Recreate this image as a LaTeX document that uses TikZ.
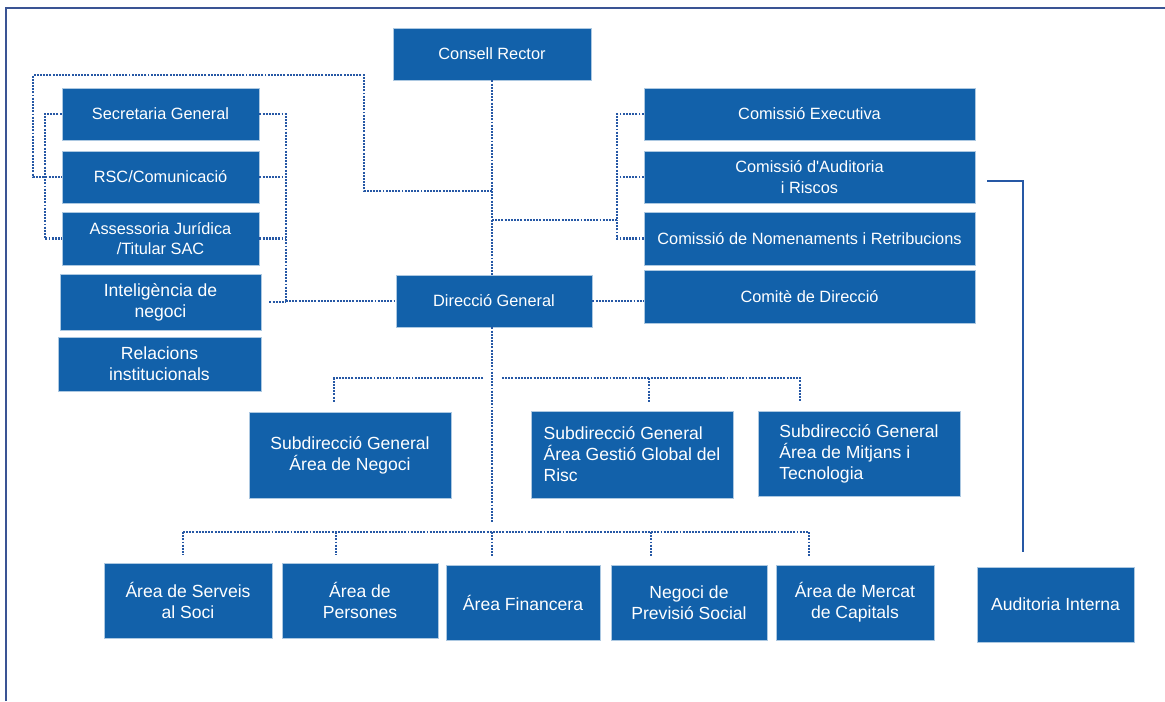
\documentclass[tikz,border=0pt]{standalone}
\usepackage{fontspec}
\setmainfont{Liberation Sans}
\usepackage{xcolor}
\usepackage{tikz}

\definecolor{orgblue}{RGB}{18,97,170}
\definecolor{linkblue}{RGB}{38,88,165}
\definecolor{frameblue}{RGB}{58,84,148}

\begin{document}
\begin{tikzpicture}[x=0.02cm, y=-0.02cm,
        unit/.style={draw=white!65!orgblue, line width=0.5pt, rectangle, fill=orgblue, text=white, inner sep=0pt, align=center, font=\fontsize{9.3}{11.6}\selectfont},
        lower/.style={unit, font=\fontsize{10}{12}\selectfont},
        link/.style={dash pattern=on 1.1pt off 0.7pt, line width=1.2pt, linkblue},
        audit/.style={line width=0.6pt, linkblue}]
        \useasboundingbox (0,0) rectangle (1165,701);
        \draw[frameblue, line width=1.6pt] (6,701) -- (6,8) -- (1165,8);

        \node[unit, minimum width=3.96cm, minimum height=1.04cm] (rector) at (492,54) {Consell Rector};

        \node[unit, minimum width=3.94cm, minimum height=1.04cm] (secretaria) at (160.5,114) {Secretaria General};
        \node[unit, minimum width=3.94cm, minimum height=1.04cm] (rsc) at (160.5,177) {RSC/Comunicació};
        \node[unit, minimum width=3.94cm, minimum height=1.06cm] (juridica) at (160.5,238.5) {Assessoria Jurídica\\/Titular SAC};
        \node[lower, minimum width=4.02cm, minimum height=1.12cm] (intel) at (160.5,302) {Inteligència de\\negoci};
        \node[lower, minimum width=4.06cm, minimum height=1.08cm] (relacions) at (159.5,364) {Relacions\\institucionals};

        \node[unit, minimum width=3.92cm, minimum height=1.04cm] (direccio) at (494,301) {Direcció General};

        \node[unit, minimum width=6.62cm, minimum height=1.04cm] (executiva) at (809.5,114) {Comissió Executiva};
        \node[unit, minimum width=6.62cm, minimum height=1.04cm] (auditoria) at (809.5,177) {Comissió d\textquotesingle Auditoria\\i Riscos};
        \node[unit, minimum width=6.62cm, minimum height=1.06cm] (nomenaments) at (809.5,238.5) {Comissió de Nomenaments i Retribucions};
        \node[unit, minimum width=6.62cm, minimum height=1.06cm] (comite) at (809.5,296.5) {Comitè de Direcció};

        \node[lower, minimum width=4.04cm, minimum height=1.72cm] (negoci) at (350,455) {Subdirecció General\\Área de Negoci};
        \node[lower, align=left, minimum width=4.04cm, minimum height=1.74cm] (risc) at (632,454.5) {Subdirecció General\\Área Gestió Global del\\Risc};
        \node[lower, align=left, minimum width=4.04cm, minimum height=1.70cm] (mitjans) at (859,453.5) {Subdirecció General\\Área de Mitjans i\\Tecnologia};

        \node[lower, minimum width=3.36cm, minimum height=1.5cm] (serveis) at (188,600.5) {Área de Serveis\\al Soci};
        \node[lower, minimum width=3.12cm, minimum height=1.5cm] (persones) at (360,600.5) {Área de\\Persones};
        \node[lower, minimum width=3.08cm, minimum height=1.5cm] (financera) at (523,602.5) {Área Financera};
        \node[lower, minimum width=3.12cm, minimum height=1.5cm] (previsio) at (689,602.5) {Negoci de\\Previsió Social};
        \node[lower, minimum width=3.16cm, minimum height=1.5cm] (mercat) at (855,602.5) {Área de Mercat\\de Capitals};
        \node[lower, minimum width=3.14cm, minimum height=1.5cm] (interna) at (1055.5,604.5) {Auditoria Interna};

        % bus points
        \coordinate (staff) at (492,191);
        \coordinate (comm) at (492,220);
        \coordinate (leftbus) at (286,301);
        \coordinate (combus) at (617,220);
        \coordinate (auditbend) at (1023,181);
        \coordinate (subbus) at (492,378);
        \coordinate (tickneg) at (334,378);
        \coordinate (tickrisc) at (649,378);
        \coordinate (tickmit) at (800,378);
        \coordinate (areabus) at (492,532);
        \coordinate (tserveis) at (183,532);
        \coordinate (tpersones) at (336,532);
        \coordinate (tfinancera) at (492,532);
        \coordinate (tprevisio) at (651,532);
        \coordinate (tmercat) at (809,532);

        \draw[link] (rector) -- (rector |- direccio.north);
        \draw[link] (staff) -- (364,191) -- (364,75) -- (33,75) |- (rsc.west);
        \draw[link] (secretaria.west) -- ++(-17,0) |- (juridica.west);

        \draw[link] (secretaria.east) -| (leftbus);
        \draw[link] (rsc.east) -- (rsc.east -| leftbus);
        \draw[link] (juridica.east) -- (juridica.east -| leftbus);
        \draw[link, shorten <=0.16cm] (intel.east) -- (intel.east -| leftbus);
        \draw[link] (leftbus) -- (direccio.west);

        \draw[link] (comm) -- (combus);
        \draw[link] (executiva.west) -| (combus);
        \draw[link] (nomenaments.west) -| (combus);
        \draw[link] (auditoria.west) -- (auditoria.west -| combus);
        \draw[link] (direccio.east) -- (direccio.east -| comite.west);

        \draw[audit, shorten >=0.3cm] ([xshift=0.24cm]auditoria.east |- auditbend) -- (auditbend) -- (auditbend |- interna.north);

        \draw[link] (direccio.south -| subbus) -- ([yshift=0.18cm]areabus);
        \draw[link, shorten >=0.2cm] ([xshift=-0.18cm]subbus) -- (tickneg) -- (tickneg |- negoci.north);
        \draw[link, shorten >=0.16cm] ([xshift=0.2cm]subbus) -- (tickmit) -- (tickmit |- mitjans.north);
        \draw[link, shorten >=0.16cm] (tickrisc) -- (tickrisc |- risc.north);

        \draw[link] (tserveis) -- (tmercat);
        \draw[link, shorten >=0.16cm] (tserveis) -- (tserveis |- serveis.north);
        \draw[link, shorten >=0.16cm] (tpersones) -- (tpersones |- persones.north);
        \draw[link, shorten >=0.16cm] (tfinancera) -- (tfinancera |- financera.north);
        \draw[link, shorten >=0.16cm] (tprevisio) -- (tprevisio |- previsio.north);
        \draw[link, shorten >=0.16cm] (tmercat) -- (tmercat |- mercat.north);
    \end{tikzpicture}
\end{document}
